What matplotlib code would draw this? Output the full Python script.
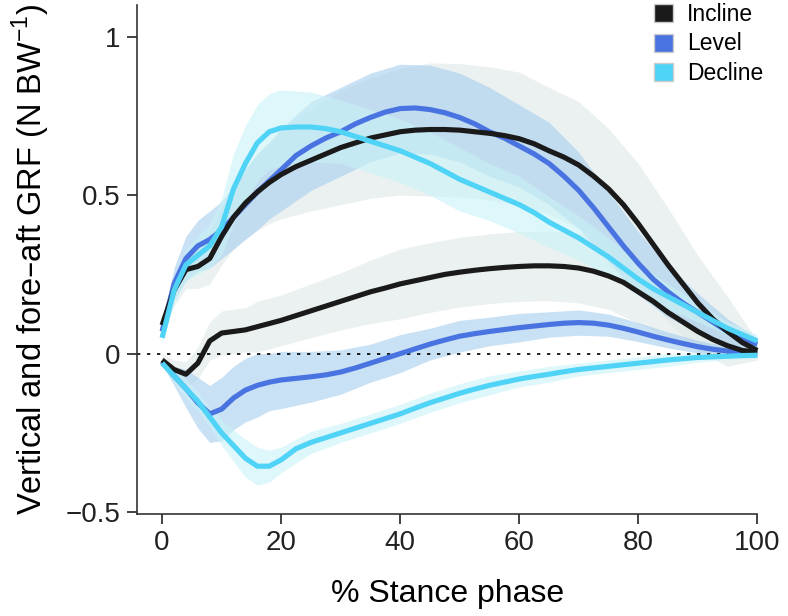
import matplotlib.pyplot as plt
import numpy as np
from matplotlib.patches import Patch

# % stance phase where the mean curves were read
stance = [0, 2, 4, 6, 8, 10, 12, 14, 16, 18, 20, 22.5, 25, 27.5, 30, 32.5,
          35, 37.5, 40, 42.5, 45, 47.5, 50, 52.5, 55, 57.5, 60, 62.5, 65,
          67.5, 70, 72.5, 75, 77.5, 80, 82.5, 85, 87.5, 90, 92.5, 95, 97.5,
          100]
# coarser points where the SD bands were read (subset of stance)
band_stance = [0, 2, 4, 6, 8, 10, 12, 14, 16, 18, 20, 25, 30, 35, 40, 45,
               50, 55, 60, 65, 70, 75, 80, 85, 90, 95, 100]

# vertical GRF means
incline_vert = [0.09, 0.20, 0.265, 0.275, 0.30, 0.37, 0.43, 0.475, 0.51, 0.54,
                0.565, 0.59, 0.61, 0.63, 0.65, 0.665, 0.68, 0.69, 0.70, 0.705,
                0.707, 0.707, 0.705, 0.70, 0.695, 0.688, 0.678, 0.662, 0.64,
                0.62, 0.595, 0.56, 0.52, 0.47, 0.41, 0.345, 0.28, 0.22, 0.16,
                0.11, 0.07, 0.035, 0.01]
level_vert = [0.07, 0.22, 0.30, 0.34, 0.36, 0.39, 0.43, 0.47, 0.51, 0.545,
              0.58, 0.625, 0.655, 0.68, 0.70, 0.725, 0.745, 0.762, 0.773,
              0.775, 0.77, 0.76, 0.745, 0.725, 0.70, 0.68, 0.655, 0.63, 0.60,
              0.56, 0.515, 0.46, 0.40, 0.34, 0.285, 0.235, 0.195, 0.16, 0.13,
              0.10, 0.07, 0.045, 0.03]
decline_vert = [0.05, 0.20, 0.28, 0.31, 0.34, 0.40, 0.52, 0.60, 0.665, 0.70,
                0.712, 0.715, 0.715, 0.71, 0.70, 0.685, 0.67, 0.655, 0.64,
                0.62, 0.60, 0.575, 0.55, 0.53, 0.51, 0.49, 0.47, 0.445, 0.415,
                0.39, 0.365, 0.335, 0.305, 0.27, 0.235, 0.205, 0.18, 0.155,
                0.13, 0.105, 0.08, 0.06, 0.04]

# fore-aft GRF means
incline_fa = [-0.02, -0.05, -0.065, -0.03, 0.04, 0.065, 0.07, 0.075, 0.085,
              0.095, 0.105, 0.12, 0.135, 0.15, 0.165, 0.18, 0.195, 0.207,
              0.22, 0.23, 0.24, 0.25, 0.257, 0.263, 0.268, 0.272, 0.275,
              0.277, 0.277, 0.275, 0.27, 0.26, 0.245, 0.225, 0.195, 0.165,
              0.13, 0.10, 0.07, 0.045, 0.025, 0.01, 0.005]
level_fa = [-0.025, -0.07, -0.11, -0.155, -0.19, -0.175, -0.14, -0.115,
            -0.10, -0.09, -0.083, -0.078, -0.073, -0.067, -0.058, -0.045,
            -0.03, -0.015, 0.0, 0.015, 0.03, 0.043, 0.055, 0.063, 0.07,
            0.076, 0.082, 0.087, 0.092, 0.096, 0.098, 0.096, 0.09, 0.08,
            0.068, 0.055, 0.043, 0.032, 0.022, 0.014, 0.008, 0.003, 0.0]
decline_fa = [-0.03, -0.07, -0.11, -0.15, -0.20, -0.25, -0.29, -0.33, -0.355,
              -0.355, -0.335, -0.30, -0.28, -0.265, -0.25, -0.235, -0.22,
              -0.205, -0.19, -0.172, -0.155, -0.14, -0.125, -0.112, -0.10,
              -0.09, -0.08, -0.072, -0.065, -0.057, -0.05, -0.045, -0.04,
              -0.035, -0.03, -0.025, -0.02, -0.016, -0.012, -0.01, -0.008,
              -0.006, -0.005]

# standard deviations (shaded bands), at band_stance
incline_vert_sd = [0.02, 0.05, 0.06, 0.07, 0.08, 0.09, 0.10, 0.11, 0.12, 0.13,
                   0.14, 0.16, 0.18, 0.19, 0.20, 0.21, 0.21, 0.21, 0.21, 0.20,
                   0.20, 0.19, 0.19, 0.18, 0.15, 0.11, 0.03]
level_vert_sd = [0.02, 0.05, 0.07, 0.08, 0.09, 0.09, 0.10, 0.11, 0.12, 0.12,
                 0.13, 0.14, 0.14, 0.14, 0.14, 0.14, 0.14, 0.14, 0.13, 0.13,
                 0.12, 0.11, 0.10, 0.08, 0.06, 0.04, 0.02]
decline_vert_sd = [0.02, 0.04, 0.05, 0.06, 0.07, 0.09, 0.11, 0.12, 0.12, 0.12,
                   0.12, 0.11, 0.10, 0.10, 0.10, 0.10, 0.10, 0.09, 0.09, 0.08,
                   0.07, 0.06, 0.05, 0.04, 0.03, 0.02, 0.02]
incline_fa_sd = [0.02, 0.03, 0.04, 0.05, 0.06, 0.07, 0.07, 0.07, 0.08, 0.08,
                 0.08, 0.085, 0.09, 0.10, 0.11, 0.11, 0.11, 0.11, 0.11, 0.11,
                 0.11, 0.105, 0.10, 0.08, 0.06, 0.04, 0.02]
level_fa_sd = [0.01, 0.03, 0.06, 0.08, 0.09, 0.10, 0.10, 0.10, 0.10, 0.09,
               0.09, 0.08, 0.07, 0.06, 0.06, 0.05, 0.05, 0.045, 0.045, 0.04,
               0.04, 0.035, 0.03, 0.025, 0.02, 0.015, 0.01]
decline_fa_sd = [0.01, 0.02, 0.03, 0.03, 0.03, 0.04, 0.05, 0.06, 0.06, 0.05,
                 0.04, 0.035, 0.03, 0.03, 0.03, 0.03, 0.03, 0.03, 0.025, 0.025,
                 0.02, 0.02, 0.02, 0.02, 0.015, 0.01, 0.01]

conditions = ['Incline', 'Level', 'Decline']
line_colors = {'Incline': '#1a1a1a', 'Level': '#4873e0', 'Decline': '#4fd3f6'}
band_colors = {'Incline': '#dfe8e8', 'Level': '#a6cdee', 'Decline': '#c8f3f7'}

means = {
    'Incline': [incline_vert, incline_fa],
    'Level': [level_vert, level_fa],
    'Decline': [decline_vert, decline_fa],
}
sds = {
    'Incline': [incline_vert_sd, incline_fa_sd],
    'Level': [level_vert_sd, level_fa_sd],
    'Decline': [decline_vert_sd, decline_fa_sd],
}

plt.rcParams['font.family'] = ['Liberation Sans', 'DejaVu Sans']

fig = plt.figure(figsize=(7.88, 6.16), dpi=100)
ax = fig.add_axes([0.174, 0.166, 0.787, 0.826])

x = np.array(stance)
xb = np.array(band_stance)
on_band = np.isin(x, xb)
for cond in conditions:
    for m, s in zip(means[cond], sds[cond]):
        m = np.array(m)[on_band]
        s = np.array(s)
        ax.fill_between(xb, m - s, m + s, color=band_colors[cond],
                        alpha=0.6, linewidth=0)

ax.axhline(0, color='black', linestyle=(0, (2, 4)), linewidth=1.2, zorder=2)

for cond in ['Level', 'Incline', 'Decline']:
    for m in means[cond]:
        ax.plot(x, m, color=line_colors[cond], linewidth=3.7,
                solid_joinstyle='round', solid_capstyle='butt', zorder=3,
                clip_on=False)

ax.set_xlim(-4.2, 100)
ax.set_ylim(-0.505, 1.1)
ax.set_xticks([0, 20, 40, 60, 80, 100])
ax.set_yticks([-0.5, 0, 0.5, 1])
ax.set_yticklabels(['\u22120.5', '0', '0.5', '1'])
ax.tick_params(direction='out', length=7, width=1.2, labelsize=20,
               colors='#222222', pad=5)
for side in ['top', 'right']:
    ax.spines[side].set_visible(False)
for side in ['left', 'bottom']:
    ax.spines[side].set_linewidth(1.2)
    ax.spines[side].set_color('#333333')

ax.set_xlabel('% Stance phase', fontsize=23, labelpad=16)
ax.set_ylabel('Vertical and fore\u2013aft GRF (N BW$^{\\mathregular{-1}}$)',
              fontsize=23.5, labelpad=10)

handles = [Patch(facecolor=line_colors[c], edgecolor='#cccccc', label=c)
           for c in conditions]
fig.legend(handles=handles, loc='upper left', bbox_to_anchor=(0.83, 0.995),
           frameon=False, fontsize=16.5, handlelength=0.83,
           handleheight=0.83, handletextpad=0.6, labelspacing=0.28,
           borderpad=0, borderaxespad=0)

fig.savefig('out.png', dpi=100)
